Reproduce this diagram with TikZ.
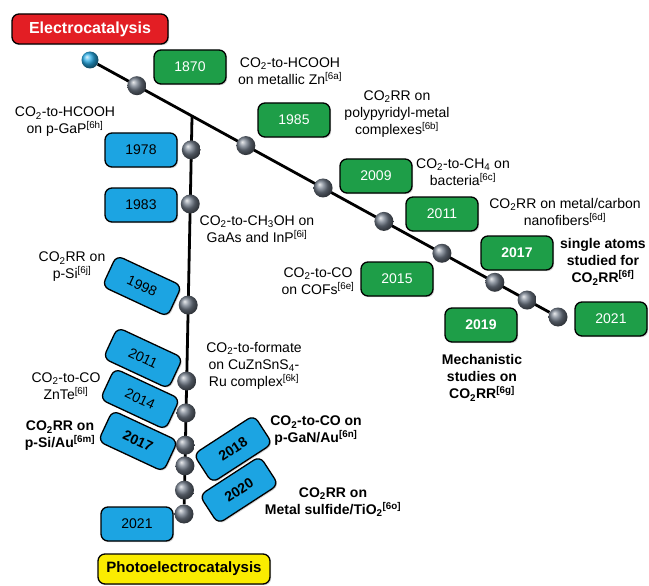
\documentclass[tikz,border=0pt]{standalone}
\usepackage{fontspec}
\setmainfont{Liberation Sans}
\usetikzlibrary{shadows,calc,backgrounds}

\definecolor{elecred}{RGB}{227,30,36}
\definecolor{boxgreen}{RGB}{30,158,72}
\definecolor{boxblue}{RGB}{28,164,226}
\definecolor{photoyellow}{RGB}{250,236,0}
\definecolor{ballgray}{RGB}{112,122,136}
\definecolor{ballblue}{RGB}{40,172,230}

\newcommand{\cotwo}{CO\textsubscript{2}}
\newcommand{\refmark}[1]{\textsuperscript{[#1]}}

\begin{document}
\begin{tikzpicture}[
    x=1pt, y=-1pt,
    every node/.style={font=\fontsize{14}{17}\selectfont},
    shade box/.style={draw=black, line width=1.3pt, rounded corners=7pt, inner sep=0pt,
        drop shadow={shadow xshift=1.2pt, shadow yshift=-1.2pt, opacity=0.35}},
    heading/.style={shade box, minimum height=30pt},
    yearbox/.style={shade box, minimum width=72pt, minimum height=34pt},
    green box/.style={yearbox, fill=boxgreen, text=white},
    blue box/.style={yearbox, fill=boxblue, text=black},
    ball/.style={circle, inner sep=0pt, minimum size=19pt, ball color=ballgray},
    note/.style={align=center},
    timeline/.style={line width=2.8pt, black}
]
\useasboundingbox (0,0) rectangle (649,586);

% Headings
\node[heading, fill=elecred, text=white, minimum width=156pt,
      font=\fontsize{16}{19}\selectfont\bfseries] (elec) at (90,29) {Electrocatalysis};
\node[heading, fill=photoyellow, minimum width=172pt,
      font=\fontsize{15}{18}\selectfont\bfseries] (photo) at (184,569) {Photoelectrocatalysis};

% Electrocatalysis line
\node[ball, ball color=ballblue, minimum size=17pt] (s0) at (90,60) {};
\node[ball] (s8) at (558,317) {};
\foreach \t/\n in {0.100/1, 0.333/2, 0.498/3, 0.628/4, 0.752/5, 0.865/6, 0.934/7}
    \node[ball] (s\n) at ($(s0)!\t!(s8)$) {};
\coordinate (fork) at ($(s0)!0.218!(s8)$);

% Photoelectrocatalysis line
\node[ball] (p9) at (184,514) {};
\foreach \t/\n in {0.085/1, 0.221/2, 0.475/3, 0.666/4, 0.746/5, 0.827/6, 0.879/7, 0.940/8}
    \node[ball] (p\n) at ($(fork)!\t!(p9)$) {};

\begin{scope}[on background layer]
    \draw[timeline] (s0) -- (s8);
    \draw[timeline] (fork) -- (p9);
\end{scope}

% Electrocatalysis milestones
\node[green box] (g1870) at (190,67) {1870};
\node[green box] (g1985) at (294,120) {1985};
\node[green box] (g2009) at (376,176) {2009};
\node[green box] (g2011) at (442,214) {2011};
\node[green box] (g2015) at (397,279) {2015};
\node[green box, font=\fontsize{14}{17}\selectfont\bfseries] (g2017) at (517,253) {2017};
\node[green box, font=\fontsize{14}{17}\selectfont\bfseries] (g2019) at (481,325) {2019};
\node[green box] (g2021) at (611,319) {2021};

\node[note] (t1870) at (290,71) {\cotwo-to-HCOOH\\on metallic Zn\refmark{6a}};
\node[note] (t1985) at (397,114) {\cotwo RR on\\polypyridyl-metal\\complexes\refmark{6b}};
\node[note] (t2009) at (463,172) {\cotwo-to-CH\textsubscript{4} on\\bacteria\refmark{6c}};
\node[note] (t2011) at (565,212) {\cotwo RR on metal/carbon\\nanofibers\refmark{6d}};
\node[note] (t2015) at (318,281) {\cotwo-to-CO\\on COFs\refmark{6e}};
\node[note, font=\fontsize{14}{17}\selectfont\bfseries] (t2017) at (603,262) {single atoms\\studied for\\\cotwo RR\refmark{6f}};
\node[note, font=\fontsize{14}{17}\selectfont\bfseries] (t2019) at (482,378) {Mechanistic\\studies on\\\cotwo RR\refmark{6g}};

% Photoelectrocatalysis milestones
\node[blue box] (b1978) at (141,150) {1978};
\node[blue box] (b1983) at (141,205) {1983};
\node[blue box, rotate=-25] (b1998) at (142,286) {1998};
\node[blue box, rotate=-25] (b2011) at (143,358) {2011};
\node[blue box, rotate=-25] (b2014) at (140,399) {2014};
\node[blue box, rotate=-25, font=\fontsize{14}{17}\selectfont\bfseries] (b2017) at (138,441) {2017};
\node[blue box, rotate=33, font=\fontsize{14}{17}\selectfont\bfseries] (b2018) at (233,449) {2018};
\node[blue box, rotate=33, font=\fontsize{14}{17}\selectfont\bfseries] (b2020) at (239,490) {2020};
\node[blue box] (b2021) at (137,524) {2021};

\node[note] (u1978) at (65,122) {\cotwo-to-HCOOH\\on p-GaP\refmark{6h}};
\node[note] (u1983) at (257,229) {\cotwo-to-CH\textsubscript{3}OH on\\GaAs and InP\refmark{6i}};
\node[note] (u1998) at (72,267) {\cotwo RR on\\p-Si\refmark{6j}};
\node[note] (u2011) at (254,366) {\cotwo-to-formate\\on CuZnSnS\textsubscript{4}-\\Ru complex\refmark{6k}};
\node[note] (u2014) at (66,386) {\cotwo-to-CO\\ZnTe\refmark{6l}};
\node[note, font=\fontsize{14}{17}\selectfont\bfseries] (u2017) at (60,436) {\cotwo RR on\\p-Si/Au\refmark{6m}};
\node[note, font=\fontsize{14}{17}\selectfont\bfseries] (u2018) at (316,431) {\cotwo-to-CO on\\p-GaN/Au\refmark{6n}};
\node[note, font=\fontsize{14}{17}\selectfont\bfseries] (u2020) at (333,502) {\cotwo RR on\\Metal sulfide/TiO\textsubscript{2}\refmark{6o}};
\end{tikzpicture}
\end{document}
